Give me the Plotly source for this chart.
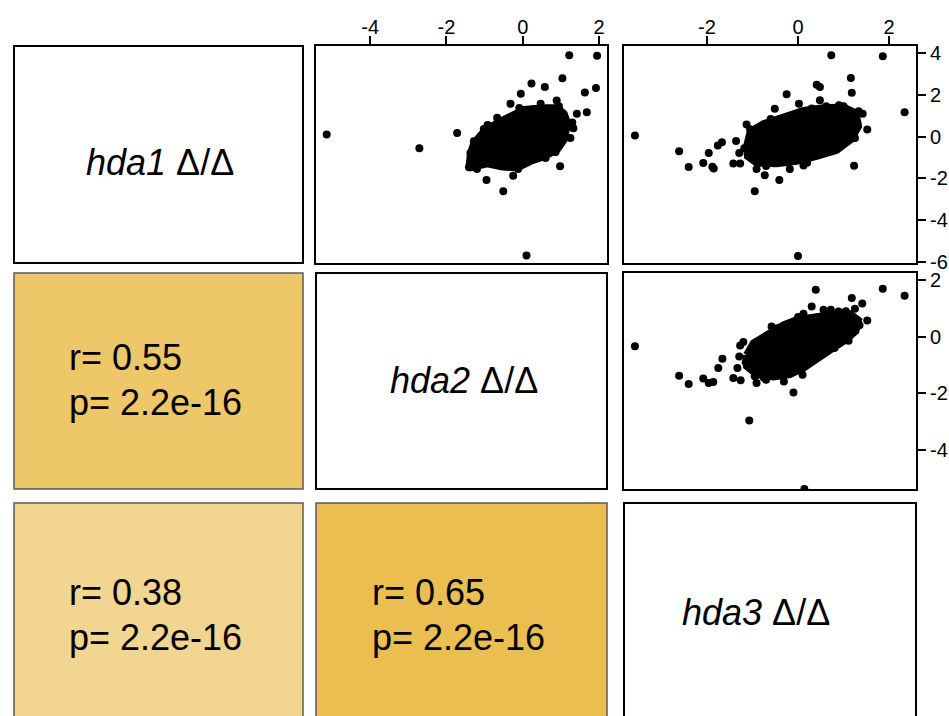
import plotly.graph_objects as go

# ---------------- data ----------------
variables = ["hda1", "hda2", "hda3"]

# panel row1/col2 : x = hda2, y = hda1 (sparse points)
p12_x = [-5.14, -2.71, -1.72, 1.22, 1.95, 1.04, 0.23, 0.58, 1.92, 1.63, -0.05, -0.32, 0.47, 0.89,
         -0.67, 1.42, 1.68, 1.33, 1.25, 0.98, -0.77, -0.95, -0.51, -0.25, -1.41, 0.10,
         -1.28, -1.37, -1.20, -0.80, -0.12, 0.60, 0.86, 1.04, 1.30, -1.02, -0.92, 0.27, -0.09, 0.95, 1.00]
p12_y = [0.10, -0.56, 0.18, 3.90, 3.87, 2.80, 2.54, 2.38, 2.33, 2.11, 2.05, 1.57, 1.57, 1.73,
         0.90, 1.10, 1.17, 0.40, -0.06, -1.42, -1.21, -2.08, -2.62, -1.87, -1.47, -5.69,
         -0.22, -0.78, -1.55, -1.25, -1.55, -1.02, -0.74, -0.14, 0.68, 0.36, 0.56, 1.30, 1.37, 1.46, 0.88]
# outline of the dense cloud
b12_x = [-1.41, -1.37, -1.28, -1.02, -0.67, -0.32, 0.04, 0.56, 0.91, 1.09, 1.18, 1.09, 0.91, 0.56,
         0.21, -0.14, -0.53, -0.93, -1.28]
b12_y = [-1.50, -0.78, -0.30, 0.25, 0.66, 1.01, 1.30, 1.38, 1.38, 1.10, 0.62, -0.14, -0.62, -0.97,
         -1.18, -1.50, -1.45, -1.30, -1.50]

# panel row1/col3 : x = hda3, y = hda1
p13_x = [-3.58, -2.61, -2.40, -2.08, -1.96, -1.88, -1.85, -1.76, -1.67, -1.36, -1.29, -1.42, -1.27,
         -1.13, -0.91, -0.73, -0.95, -0.41, -0.18, 0.12, -0.25, -0.51, 0.02, 0.41, 0.48, 0.48, 0.62,
         0.73, 1.86, 1.16, 1.18, 1.00, 1.33, 1.42, 1.52, 1.25, 1.23, 2.34, 0.00,
         -1.18, -1.05, -0.60, 0.30, 0.90, 1.30, -0.70, 0.20]
p13_y = [0.05, -0.70, -1.45, -1.26, -0.78, -1.44, -1.52, -0.43, -0.27, -0.21, -0.78, -1.29, -1.29,
         0.58, -1.55, -1.85, -2.62, -2.08, -1.55, -1.38, 2.03, 1.34, 1.57, 2.49, 2.38, 1.74, 1.45,
         3.90, 3.85, 2.81, 2.10, 1.45, 1.21, 1.10, 0.34, -0.06, -1.39, 1.17, -5.71,
         -0.55, 0.35, 0.85, 1.35, 1.50, 0.70, -1.40, -1.25]
b13_x = [-1.13, -1.05, -0.76, -0.32, 0.12, 0.56, 1.00, 1.27, 1.33, 1.16, 0.85, 0.41, -0.03, -0.47,
         -0.91, -1.11]
b13_y = [-0.46, 0.25, 0.62, 0.94, 1.26, 1.38, 1.42, 1.14, 0.49, -0.14, -0.66, -0.94, -1.18, -1.30,
         -1.26, -0.94]

# panel row2/col3 : x = hda3, y = hda2
p23_x = [-3.58, -2.61, -2.40, -2.08, -1.96, -1.86, -1.75, -1.66, -1.42, -1.26, -1.33, -1.29, -1.27,
         -1.20, -0.91, -0.70, -0.31, -0.10, 0.10, -1.07, -0.58, 0.12, 0.30, 0.39, 0.56, 0.72, 0.89,
         1.18, 1.41, 1.25, 1.52, 1.86, 2.34, 1.11, 0.14,
         -1.15, -0.95, -0.45, 0.00, 0.60, 1.05, 1.35, 0.80, -0.75]
p23_y = [-0.34, -1.38, -1.67, -1.48, -1.64, -1.60, -1.11, -0.78, -1.46, -1.54, -1.11, -0.70, -0.31,
         -0.19, -1.64, -1.52, -1.58, -1.97, -1.34, -2.96, 0.36, 0.81, 1.07, 1.66, 0.95, 0.95, 0.89,
         1.37, 1.17, 0.99, 0.57, 1.69, 1.45, -0.14, -5.38,
         -0.90, -1.40, 0.30, 0.70, 0.85, 0.90, 0.40, -0.40, -1.45]
b23_x = [-1.13, -0.98, -0.62, -0.32, -0.03, 0.41, 0.85, 1.14, 1.33, 1.27, 1.00, 0.70, 0.41, 0.12,
         -0.18, -0.54, -0.91, -1.13]
b23_y = [-0.64, -0.22, 0.13, 0.42, 0.60, 0.72, 0.81, 0.81, 0.58, 0.19, -0.17, -0.48, -0.81, -1.11,
         -1.34, -1.42, -1.34, -1.05]

# lower-triangle correlation statistics
r_values = [0.55, 0.38, 0.65]          # (hda1,hda2), (hda1,hda3), (hda2,hda3)
p_labels = ["2.2e-16", "2.2e-16", "2.2e-16"]
r_colors = ["#EEC768", "#F2D591", "#EBBE52"]

tick_hda2 = [-4, -2, 0, 2]
tick_hda3 = [-2, 0, 2]
tick_hda1 = [4, 2, 0, -2, -4, -6]
tick_hda2_y = [2, 0, -2, -4]

# ---------------- layout helpers ----------------
W, H = 949, 716
def fx(px):
    return px / W
def fy(py):
    return max(0.0, 1 - py / H)

cols = [(14, 303), (316, 607), (624, 916)]
rows = [(46, 263), (273, 489), (503, 716)]

FONT = "Liberation Sans, Arial, sans-serif"

fig = go.Figure()

def add_panel(xs, ys, bx, by, xa, ya):
    fig.add_trace(go.Scatter(x=bx + bx[:1], y=by + by[:1], mode="lines", fill="toself",
                             fillcolor="black", line=dict(color="black", width=7),
                             xaxis=xa, yaxis=ya, hoverinfo="skip", showlegend=False))
    fig.add_trace(go.Scatter(x=xs, y=ys, mode="markers",
                             marker=dict(color="black", size=8),
                             xaxis=xa, yaxis=ya, showlegend=False))

add_panel(p12_x, p12_y, b12_x, b12_y, "x", "y")
add_panel(p13_x, p13_y, b13_x, b13_y, "x2", "y2")
add_panel(p23_x, p23_y, b23_x, b23_y, "x3", "y3")

range_hda1 = [-6.05, 4.34]
range_hda2x = [-5.42, 2.21]
range_hda2y = [-5.38, 2.25]
range_hda3 = [-3.82, 2.59]

common = dict(showgrid=False, zeroline=False, showline=True, linecolor="black", linewidth=2,
              mirror=True, ticks="outside", ticklen=8, tickwidth=1.5, tickcolor="black",
              tickfont=dict(family=FONT, size=20, color="black"), fixedrange=True,
              automargin=False)
noticks = {k: v for k, v in common.items() if k != "ticks"}

def dom_x(c):
    return [fx(cols[c][0]), fx(cols[c][1])]
def dom_y(r):
    return [fy(rows[r][1]), fy(rows[r][0])]

fig.update_layout(
    xaxis=dict(domain=dom_x(1), anchor="y", range=range_hda2x, side="top",
               tickvals=tick_hda2, ticktext=[str(v) for v in tick_hda2],
               ticklabelstandoff=-6, **common),
    yaxis=dict(domain=dom_y(0), anchor="x", range=range_hda1, showticklabels=False,
               ticks="", **noticks),
    xaxis2=dict(domain=dom_x(2), anchor="y2", range=range_hda3, side="top",
                tickvals=tick_hda3, ticktext=[str(v) for v in tick_hda3],
                ticklabelstandoff=-6, **common),
    yaxis2=dict(domain=dom_y(0), anchor="x2", range=range_hda1, side="right",
                tickvals=tick_hda1, ticktext=[str(v) for v in tick_hda1], **common),
    xaxis3=dict(domain=dom_x(2), anchor="y3", range=range_hda3, showticklabels=False,
                ticks="", **noticks),
    yaxis3=dict(domain=dom_y(1), anchor="x3", range=range_hda2y, side="right",
                tickvals=tick_hda2_y, ticktext=[str(v) for v in tick_hda2_y], **common),
)

shapes = []

def frame(ri, ci, color, width, fill):
    x0, x1 = fx(cols[ci][0]), fx(cols[ci][1])
    y0, y1 = fy(rows[ri][1]), fy(rows[ri][0])
    if ri < 2:
        shapes.append(dict(type="rect", xref="paper", yref="paper", x0=x0, x1=x1, y0=y0, y1=y1,
                           line=dict(color=color, width=width), fillcolor=fill, layer="below"))
    else:
        # bottom row runs off the picture: fill plus an open frame without a bottom edge
        shapes.append(dict(type="rect", xref="paper", yref="paper", x0=x0, x1=x1, y0=y0, y1=y1,
                           line=dict(width=0), fillcolor=fill, layer="below"))
        shapes.append(dict(type="path", xref="paper", yref="paper",
                           path=f"M {x0},{y0} L {x0},{y1} L {x1},{y1} L {x1},{y0}",
                           line=dict(color=color, width=width), layer="below"))

for i in range(3):
    frame(i, i, "black", 2, "white")

lower_cells = [(1, 0), (2, 0), (2, 1)]
for k, (ri, ci) in enumerate(lower_cells):
    frame(ri, ci, "#5a5a5a", 1.5, r_colors[k])

annotations = []
label_pos = [(160, 162), (464, 381), (756, 612)]
for i, name in enumerate(variables):
    annotations.append(dict(xref="paper", yref="paper", x=fx(label_pos[i][0]), y=fy(label_pos[i][1]),
                            text=f"<i>{name}</i> Δ/Δ", showarrow=False, xanchor="center",
                            yanchor="middle", font=dict(family=FONT, size=36, color="black")))

text_left = [67, 67, 370]
text_rows = [(357, 402), (592, 637), (592, 637)]
for k in range(3):
    annotations.append(dict(xref="paper", yref="paper", x=fx(text_left[k]), y=fy(text_rows[k][0]),
                            text=f"r= {r_values[k]:.2f}", showarrow=False, xanchor="left",
                            yanchor="middle", font=dict(family=FONT, size=36, color="black")))
    annotations.append(dict(xref="paper", yref="paper", x=fx(text_left[k]), y=fy(text_rows[k][1]),
                            text=f"p= {p_labels[k]}", showarrow=False, xanchor="left",
                            yanchor="middle", font=dict(family=FONT, size=36, color="black")))

fig.update_layout(shapes=shapes, annotations=annotations, width=W, height=H,
                  margin=dict(l=0, r=0, t=0, b=0, pad=0, autoexpand=False),
                  paper_bgcolor="white", plot_bgcolor="white",
                  showlegend=False)

fig.write_html("out.html", config={"displayModeBar": False, "responsive": False})
